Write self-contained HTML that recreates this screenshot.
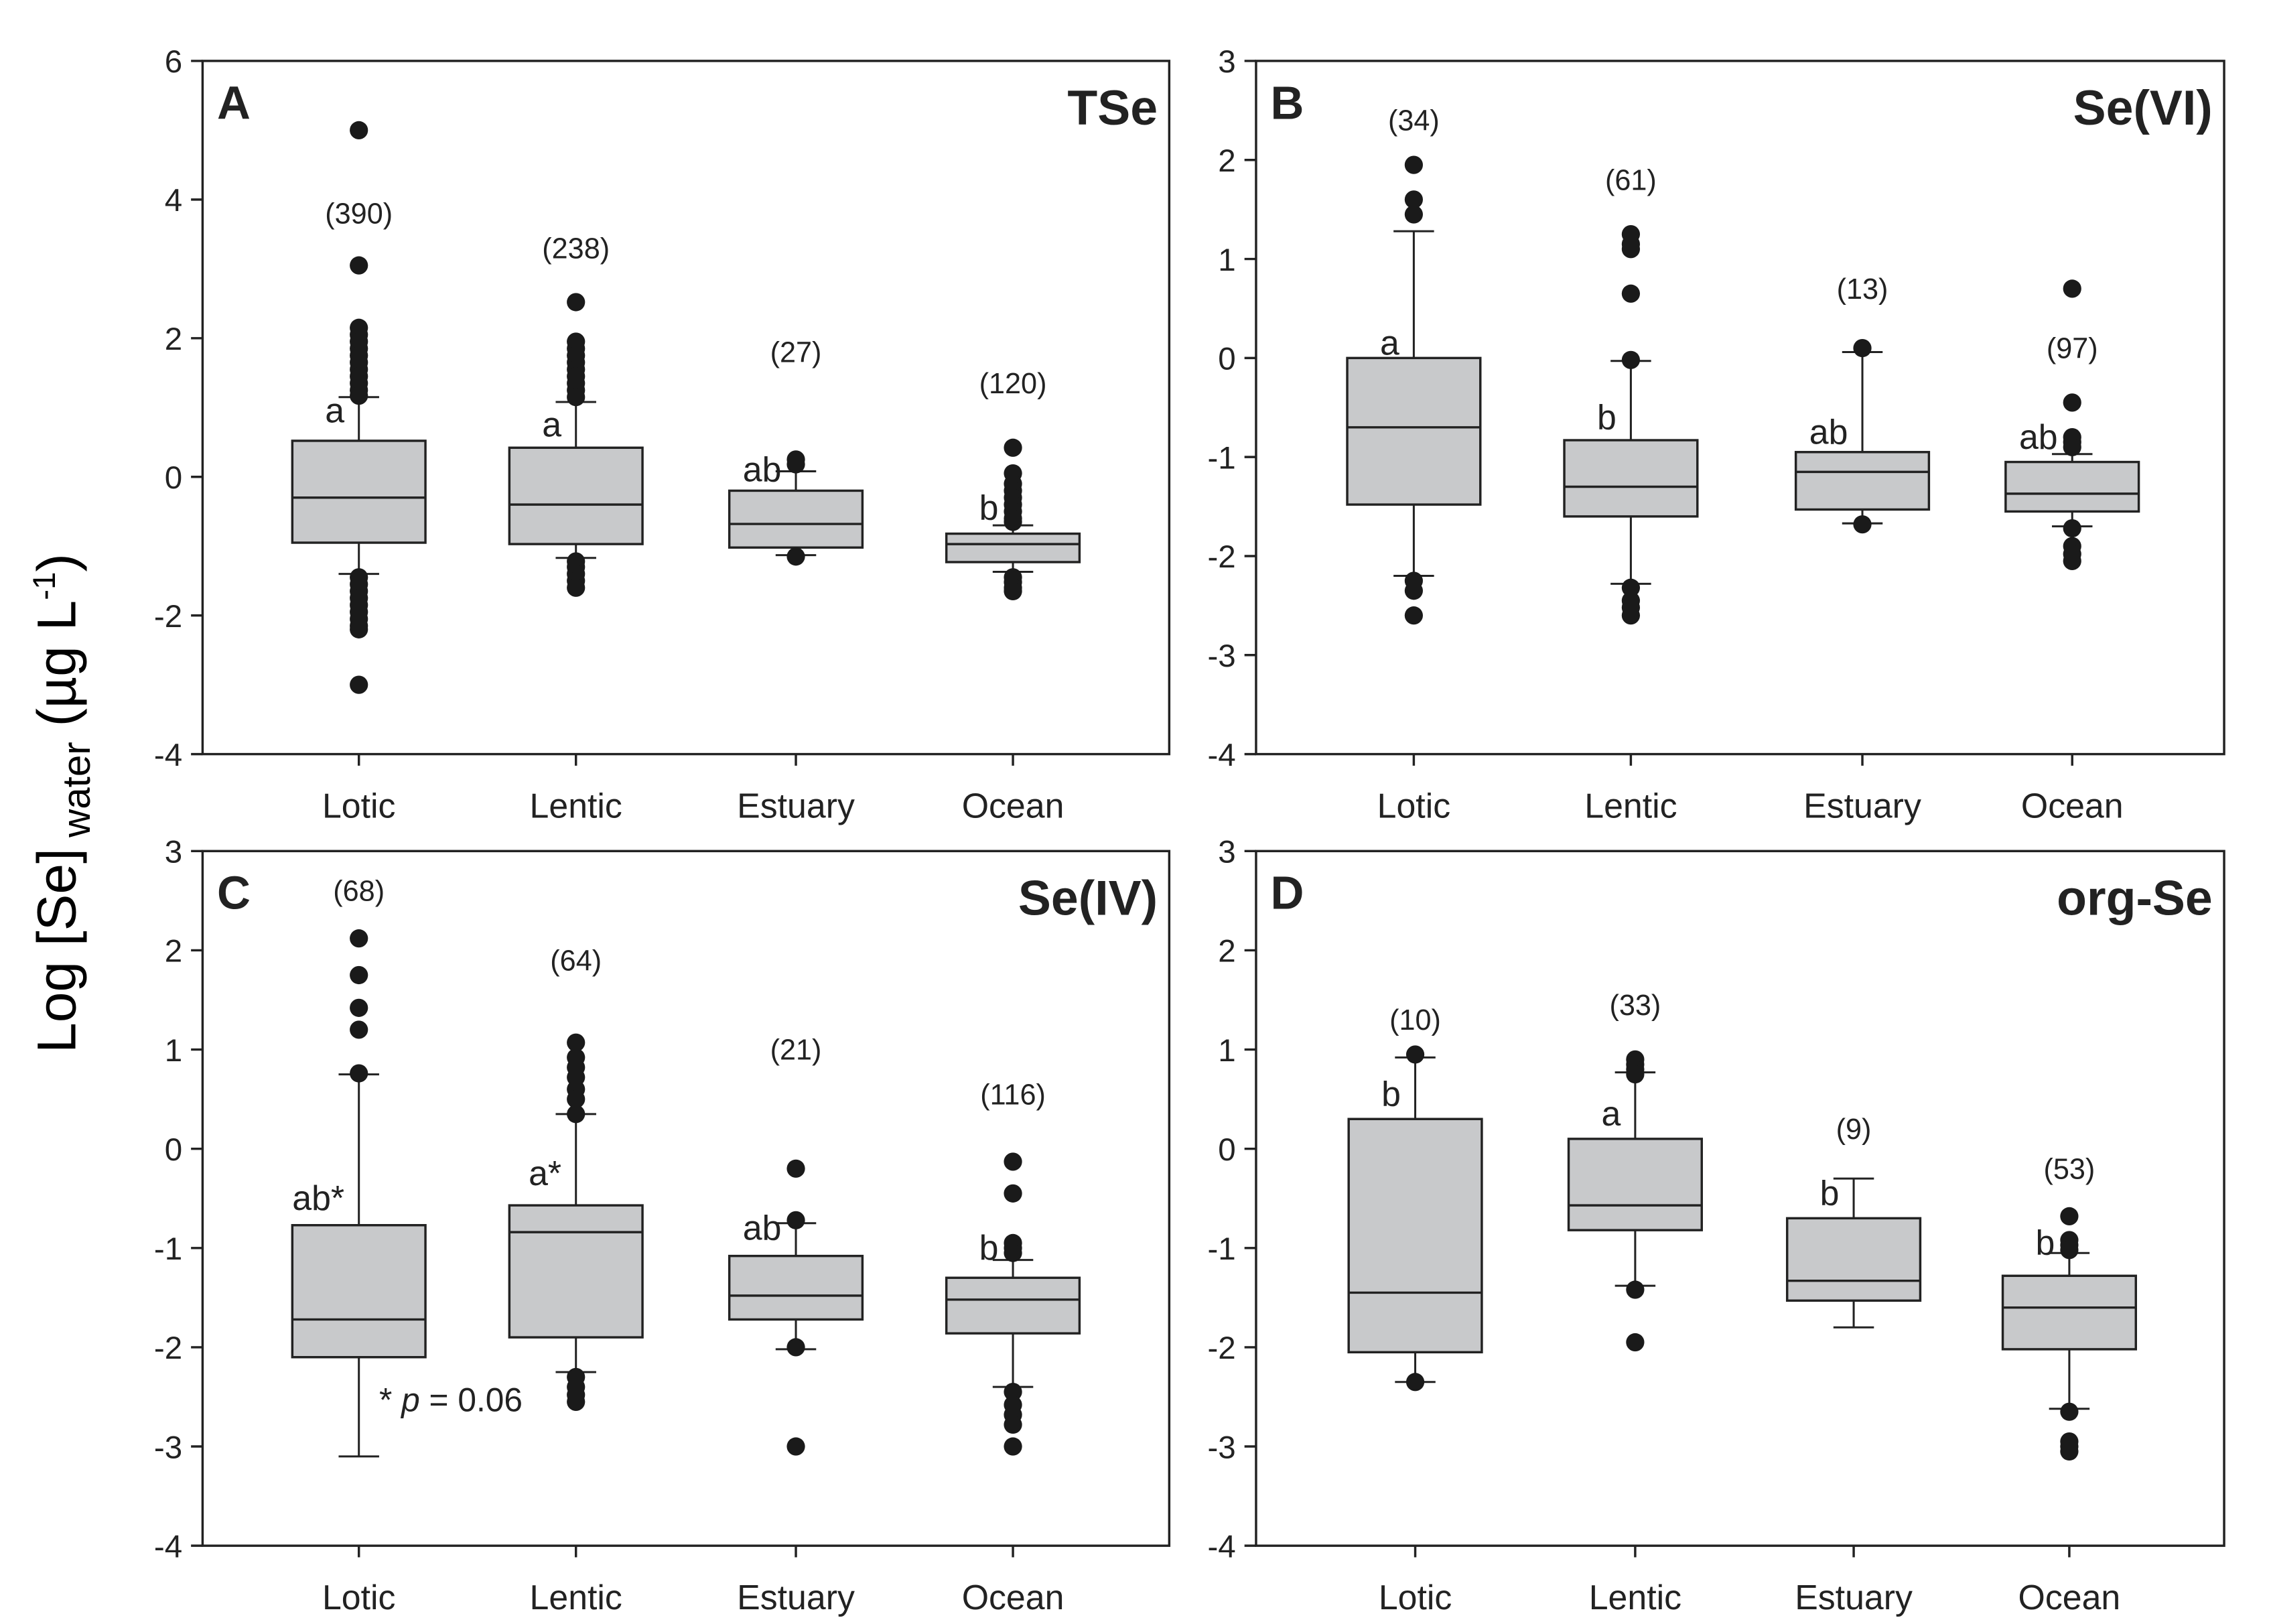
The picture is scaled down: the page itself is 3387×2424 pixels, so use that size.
<!DOCTYPE html>
<html><head><meta charset="utf-8"><style>
html,body{margin:0;padding:0;background:#fff;}
svg{display:block;font-family:"Liberation Sans",Arial,sans-serif;}
</style></head><body>
<svg id="fig" width="3387" height="2424" viewBox="0 0 1568 1122" xmlns="http://www.w3.org/2000/svg">
<text transform="translate(52,555) rotate(-90)" text-anchor="middle" font-size="38">Log [Se]<tspan font-size="27" dy="10"> water</tspan><tspan dy="-10"> (µg L</tspan><tspan font-size="22" dy="-14">-1</tspan><tspan dy="14">)</tspan></text>
</svg>
<script>
const categories = ["Lotic","Lentic","Estuary","Ocean"];
// per panel: [whiskerLow, q1, median, q3, whiskerHigh]
const boxesA = [[-1.4,-0.95,-0.3,0.52,1.15],[-1.17,-0.97,-0.4,0.42,1.08],[-1.13,-1.02,-0.68,-0.2,0.08],[-1.37,-1.23,-0.97,-0.82,-0.7]];
const boxesB = [[-2.2,-1.48,-0.7,0,1.28],[-2.28,-1.6,-1.3,-0.83,-0.03],[-1.67,-1.53,-1.15,-0.95,0.06],[-1.7,-1.55,-1.37,-1.05,-0.97]];
const boxesC = [[-3.1,-2.1,-1.72,-0.77,0.75],[-2.25,-1.9,-0.84,-0.57,0.35],[-2.02,-1.72,-1.48,-1.08,-0.75],[-2.4,-1.86,-1.52,-1.3,-1.12]];
const boxesD = [[-2.35,-2.05,-1.45,0.3,0.92],[-1.38,-0.82,-0.57,0.1,0.77],[-1.8,-1.53,-1.33,-0.7,-0.3],[-2.62,-2.02,-1.6,-1.28,-1.05]];
const outliersA = [[5,3.05,2.15,2.05,1.95,1.85,1.75,1.65,1.55,1.45,1.35,1.25,1.17,-1.45,-1.55,-1.65,-1.75,-1.85,-1.95,-2.05,-2.15,-2.2,-3.0],[2.52,1.95,1.85,1.75,1.65,1.55,1.45,1.35,1.25,1.15,-1.22,-1.3,-1.4,-1.5,-1.6],[0.25,0.18,-1.15],[0.42,0.05,-0.1,-0.2,-0.3,-0.4,-0.5,-0.6,-0.65,-1.45,-1.52,-1.6,-1.65]];
const outliersB = [[1.95,1.6,1.45,-2.25,-2.35,-2.6],[1.25,1.15,1.1,0.65,-0.02,-2.32,-2.45,-2.52,-2.6],[0.1,-1.68],[0.7,-0.45,-0.8,-0.85,-0.9,-1.72,-1.9,-1.98,-2.05]];
const outliersC = [[2.12,1.75,1.42,1.2,0.76],[1.07,0.92,0.82,0.72,0.6,0.5,0.35,-2.3,-2.4,-2.48,-2.55],[-0.2,-0.72,-2.0,-3.0],[-0.13,-0.45,-0.95,-1.0,-1.05,-2.45,-2.58,-2.68,-2.78,-3.0]];
const outliersD = [[0.95,-2.35],[0.9,0.85,0.8,0.75,-1.42,-1.95],[],[-0.68,-0.92,-0.97,-1.02,-2.65,-2.95,-3.0,-3.05]];
const countsA = ["(390)","(238)","(27)","(120)"], countYA = [3.8,3.3,1.8,1.35];
const countsB = ["(34)","(61)","(13)","(97)"], countYB = [2.4,1.8,0.7,0.1];
const countsC = ["(68)","(64)","(21)","(116)"], countYC = [2.6,1.9,1.0,0.55];
const countsD = ["(10)","(33)","(9)","(53)"], countYD = [1.3,1.45,0.2,-0.2];
const lettersA = ["a","a","ab","b"], letterYA = [0.95,0.75,0.1,-0.45];
const lettersB = ["a","b","ab","ab"], letterYB = [0.15,-0.6,-0.75,-0.8];
const lettersC = ["ab*","a*","ab","b"], letterYC = [-0.5,-0.25,-0.8,-1.0];
const lettersD = ["b","a","b","b"], letterYD = [0.55,0.35,-0.45,-0.95];
const ticksA = [-4,-2,0,2,4,6];
const ticksBCD = [-4,-3,-2,-1,0,1,2,3];

const NS="http://www.w3.org/2000/svg";
const svg=document.getElementById('fig');
function mk(tag,attrs,parent){const e=document.createElementNS(NS,tag);for(const k in attrs)e.setAttribute(k,attrs[k]);(parent||svg).appendChild(e);return e;}

const panels=[
 {key:"a",L:140,R:808,T:42,B:521,ymin:-4,ymax:6,ticks:ticksA,cx:[248,398,550,700],boxes:boxesA,outs:outliersA,counts:countsA,cy:countYA,letters:lettersA,ly:letterYA,tag:"A",title:"TSe"},
 {key:"b",L:868,R:1537,T:42,B:521,ymin:-4,ymax:3,ticks:ticksBCD,cx:[977,1127,1287,1432],boxes:boxesB,outs:outliersB,counts:countsB,cy:countYB,letters:lettersB,ly:letterYB,tag:"B",title:"Se(VI)"},
 {key:"c",L:140,R:808,T:588,B:1068,ymin:-4,ymax:3,ticks:ticksBCD,cx:[248,398,550,700],boxes:boxesC,outs:outliersC,counts:countsC,cy:countYC,letters:lettersC,ly:letterYC,tag:"C",title:"Se(IV)"},
 {key:"d",L:868,R:1537,T:588,B:1068,ymin:-4,ymax:3,ticks:ticksBCD,cx:[978,1130,1281,1430],boxes:boxesD,outs:outliersD,counts:countsD,cy:countYD,letters:lettersD,ly:letterYD,tag:"D",title:"org-Se"}
];
panels.forEach(p=>{
 const g=mk('g',{});
 
 
 const y=v=>p.B-(v-p.ymin)/(p.ymax-p.ymin)*(p.B-p.T);
 const fr=mk('rect',{x:p.L,y:p.T,width:p.R-p.L,height:p.B-p.T,fill:'none',stroke:'#222','stroke-width':1.6},g);
 
 
 p.ticks.forEach(t=>{
  mk('line',{x1:p.L-8,x2:p.L,y1:y(t),y2:y(t),stroke:'#222','stroke-width':1.6},g);
  const tl=mk('text',{x:p.L-14,y:y(t)+8,'text-anchor':'end','font-size':22,fill:'#222'},g);
  tl.textContent=t;
  
  
 });
 categories.forEach((c,i)=>{
  const x=p.cx[i], b=p.boxes[i], hw=46, cw=14;
  mk('line',{x1:x,x2:x,y1:p.B,y2:p.B+8,stroke:'#222','stroke-width':1.6},g);
  const xl=mk('text',{x:x,y:p.B+44,'text-anchor':'middle','font-size':24,fill:'#222'},g);
  xl.textContent=c;
  
  
  mk('line',{x1:x,x2:x,y1:y(b[0]),y2:y(b[1]),stroke:'#222','stroke-width':1.4},g);
  mk('line',{x1:x,x2:x,y1:y(b[3]),y2:y(b[4]),stroke:'#222','stroke-width':1.4},g);
  mk('line',{x1:x-cw,x2:x+cw,y1:y(b[0]),y2:y(b[0]),stroke:'#222','stroke-width':1.4},g);
  mk('line',{x1:x-cw,x2:x+cw,y1:y(b[4]),y2:y(b[4]),stroke:'#222','stroke-width':1.4},g);
  const bx=mk('rect',{x:x-hw,y:y(b[3]),width:2*hw,height:y(b[1])-y(b[3]),fill:'#c8c9cb',stroke:'#222','stroke-width':1.6},g);
  
  
  mk('line',{x1:x-hw,x2:x+hw,y1:y(b[2]),y2:y(b[2]),stroke:'#222','stroke-width':1.6},g);
  p.outs[i].forEach(o=>{
   const d=mk('circle',{cx:x,cy:y(o),r:6.3,fill:'#1a1a1a'},g);
   
   
  });
  const n=mk('text',{x:x,y:y(p.cy[i])+7,'text-anchor':'middle','font-size':20,fill:'#222'},g);
  n.textContent=p.counts[i];
  
  
  const lt=mk('text',{x:x-10,y:y(p.ly[i])+8,'text-anchor':'end','font-size':24,fill:'#222'},g);
  lt.textContent=p.letters[i];
  
  
 });
 const tg=mk('text',{x:p.L+10,y:p.T+40,'font-size':32,'font-weight':'bold',fill:'#222'},g);
 tg.textContent=p.tag;
 
 
 const ti=mk('text',{x:p.R-8,y:p.T+44,'text-anchor':'end','font-size':34,'font-weight':'bold',fill:'#222'},g);
 ti.textContent=p.title;
 
 
});
const pv=mk('text',{x:262,y:975,'font-size':23,fill:'#222'});
pv.innerHTML='* <tspan font-style="italic">p</tspan> = 0.06';


</script>
</body></html>
